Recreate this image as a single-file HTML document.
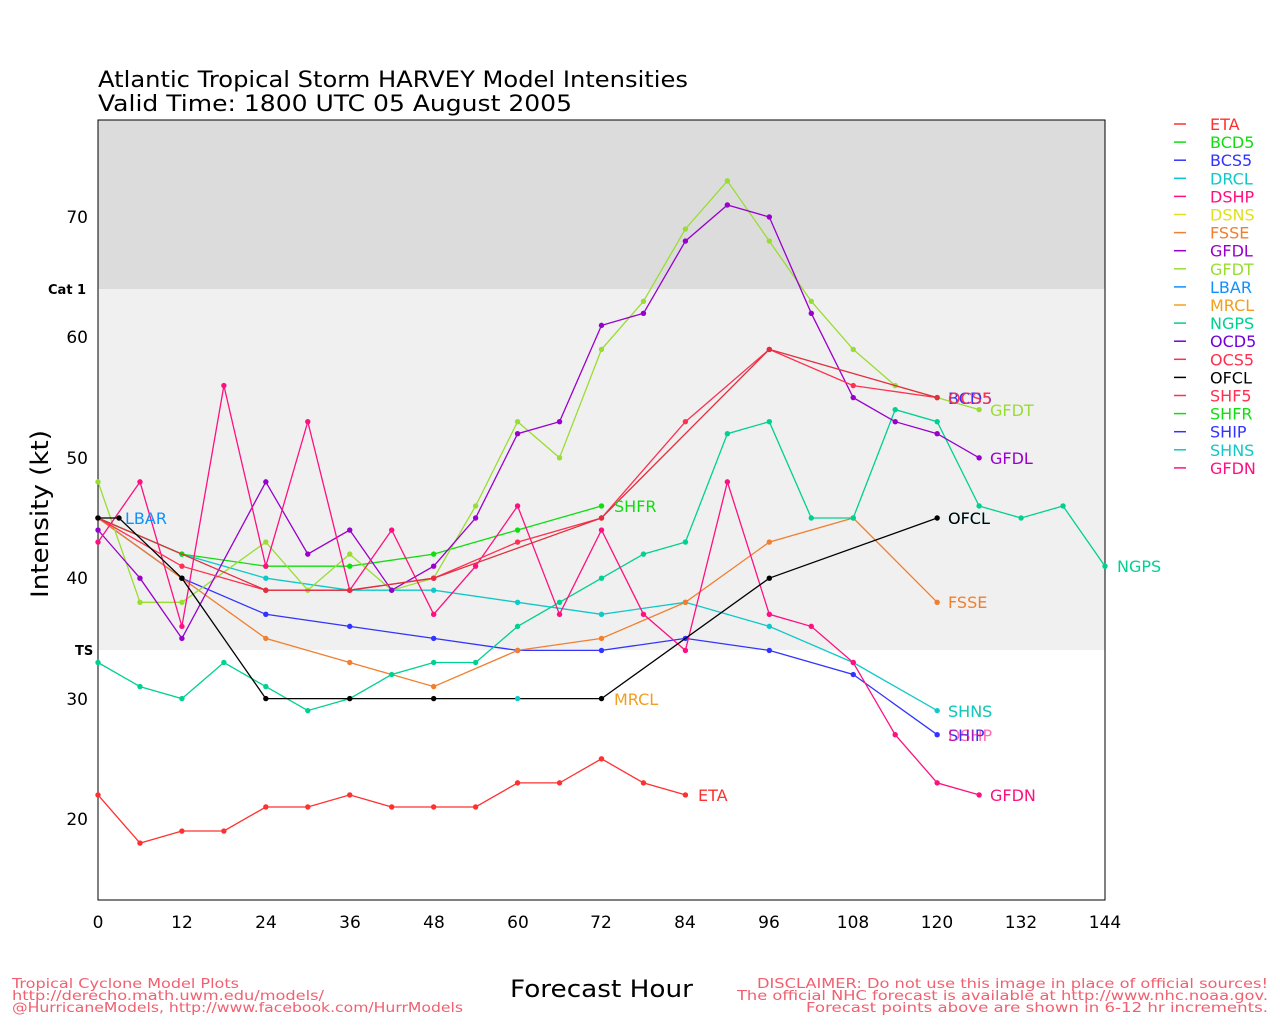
<!DOCTYPE html>
<html><head><meta charset="utf-8"><style>
body{margin:0;background:#fff;width:1280px;height:1024px;overflow:hidden;font-family:"DejaVu Sans","Liberation Sans",sans-serif}
svg text{font-family:"DejaVu Sans","Liberation Sans",sans-serif}
</style></head><body>
<svg id="s" width="1280" height="1024" xmlns="http://www.w3.org/2000/svg">
<rect x="98" y="120" width="1007" height="169" fill="#dcdcdc"/>
<rect x="98" y="289" width="1007" height="361" fill="#f0f0f0"/>
<rect x="98" y="120" width="1007" height="780" fill="none" stroke="#000" stroke-width="1"/>
<text x="98" y="87" font-size="22" textLength="590" lengthAdjust="spacingAndGlyphs">Atlantic Tropical Storm HARVEY Model Intensities</text>
<text x="98" y="111" font-size="22" textLength="474" lengthAdjust="spacingAndGlyphs">Valid Time: 1800 UTC 05 August 2005</text>
<text x="48" y="294" font-size="13" font-weight="bold">Cat 1</text>
<text x="75" y="655" font-size="13" font-weight="bold">TS</text>
<g font-size="17" text-anchor="end">
<text x="88" y="223">70</text><text x="88" y="343">60</text><text x="88" y="464">50</text><text x="88" y="584">40</text><text x="88" y="705">30</text><text x="88" y="825">20</text>
</g>
<g font-size="17" text-anchor="middle">
<text x="98" y="928">0</text><text x="182" y="928">12</text><text x="266" y="928">24</text><text x="350" y="928">36</text><text x="434" y="928">48</text><text x="518" y="928">60</text><text x="601" y="928">72</text><text x="685" y="928">84</text><text x="769" y="928">96</text><text x="853" y="928">108</text><text x="937" y="928">120</text><text x="1021" y="928">132</text><text x="1105" y="928">144</text>
</g>
<text x="48" y="514" font-size="24" transform="rotate(-90 48 514)" text-anchor="middle" textLength="168" lengthAdjust="spacingAndGlyphs">Intensity (kt)</text>
<text x="510" y="997" font-size="24" textLength="183" lengthAdjust="spacingAndGlyphs">Forecast Hour</text>
<g font-size="13" fill="#f06070">
<text x="12" y="988" textLength="227" lengthAdjust="spacingAndGlyphs">Tropical Cyclone Model Plots</text>
<text x="12" y="1000" textLength="312" lengthAdjust="spacingAndGlyphs">http://derecho.math.uwm.edu/models/</text>
<text x="12" y="1012" textLength="451" lengthAdjust="spacingAndGlyphs">@HurricaneModels, http://www.facebook.com/HurrModels</text>
<text x="757" y="988" textLength="511" lengthAdjust="spacingAndGlyphs">DISCLAIMER: Do not use this image in place of official sources!</text>
<text x="737" y="1000" textLength="531" lengthAdjust="spacingAndGlyphs">The official NHC forecast is available at http://www.nhc.noaa.gov.</text>
<text x="806" y="1012" textLength="462" lengthAdjust="spacingAndGlyphs">Forecast points above are shown in 6-12 hr increments.</text>
</g>
<g id="series"></g>
<g font-size="16">
<text x="698" y="801" fill="#ff3030">ETA</text>
<text x="990" y="464" fill="#9900cc">GFDL</text>
<text x="990" y="416" fill="#99dd33">GFDT</text>
<text x="990" y="801" fill="#ff1080">GFDN</text>
<text x="1117" y="572" fill="#00d090">NGPS</text>
<text x="948" y="717" fill="#e0e020">SHNS</text><text x="948" y="717" fill="#10c8c8">SHNS</text>
<text x="948" y="741" fill="#3333ff">SHIP</text><text x="948" y="741" fill="#ff1080" opacity="0.6">DSHP</text>
<text x="948" y="608" fill="#f08030">FSSE</text>
<text x="948" y="524" fill="#10c8c8">OFCL</text><text x="948" y="524" fill="#000">OFCL</text>
<text x="948" y="404" fill="#3333ff">BCD5</text><text x="948" y="404" fill="#ff3050">OCS5</text>
<text x="614" y="512" fill="#10dd10">SHFR</text>
<text x="614" y="705" fill="#f0a020">MRCL</text>
<text x="125" y="524" fill="#1090ff">LBAR</text>
</g>
<g id="leg" font-size="16"></g>
</svg>
<script>
var X=h=>98+h*6.993,Y=k=>819-(k-20)*12.04;
var S=[
["#10c8c8",[[0,45],[12,42],[24,40],[36,39],[48,39],[60,38],[72,37],[84,38],[96,36],[108,33],[120,29]]],
["#3333ff",[[0,45],[12,40],[24,37],[36,36],[48,35],[60,34],[72,34],[84,35],[96,34],[108,32],[120,27]]],
["#f08030",[[0,45],[12,40],[24,35],[36,33],[48,31],[60,34],[72,35],[84,38],[96,43],[108,45],[120,38]]],
["#10dd10",[[0,45],[12,42],[24,41],[36,41],[48,42],[60,44],[72,46]]],
["#ff3030",[[0,22],[6,18],[12,19],[18,19],[24,21],[30,21],[36,22],[42,21],[48,21],[54,21],[60,23],[66,23],[72,25],[78,23],[84,22]]],
["#00d090",[[0,33],[6,31],[12,30],[18,33],[24,31],[30,29],[36,30],[42,32],[48,33],[54,33],[60,36],[66,38],[72,40],[78,42],[84,43],[90,52],[96,53],[102,45],[108,45],[114,54],[120,53],[126,46],[132,45],[138,46],[144,41]]],
["#99dd33",[[0,48],[6,38],[12,38],[24,43],[30,39],[36,42],[42,39],[48,40],[54,46],[60,53],[66,50],[72,59],[78,63],[84,69],[90,73],[96,68],[102,63],[108,59],[114,56],[120,55],[126,54]]],
["#9900cc",[[0,44],[6,40],[12,35],[24,48],[30,42],[36,44],[42,39],[48,41],[54,45],[60,52],[66,53],[72,61],[78,62],[84,68],[90,71],[96,70],[102,62],[108,55],[114,53],[120,52],[126,50]]],
["#ff1080",[[0,43],[6,48],[12,36],[18,56],[24,41],[30,53],[36,39],[42,44],[48,37],[54,41],[60,46],[66,37],[72,44],[78,37],[84,34],[90,48],[96,37],[102,36],[108,33],[114,27],[120,23],[126,22]]],
["#ff3050",[[0,45],[12,41],[24,39],[36,39],[48,40],[60,43],[72,45],[84,53],[96,59],[108,56],[120,55]]],
["#e03040",[[0,45],[24,39],[36,39],[48,40],[72,45],[96,59],[120,55]]],
["#000",[[0,45],[3,45],[12,40],[24,30],[36,30],[48,30],[72,30],[96,40],[120,45]]],
["#10c8c8",[[60,30]]]
];
var h="";
S.forEach(s=>{var p=s[1].map(q=>X(q[0]).toFixed(1)+","+Y(q[1]).toFixed(1)).join(" ");
h+='<polyline points="'+p+'" fill="none" stroke="'+s[0]+'" stroke-width="1.3"/>';
s[1].forEach(q=>h+='<circle cx="'+X(q[0])+'" cy="'+Y(q[1])+'" r="2.7" fill="'+s[0]+'"/>');});
document.getElementById("series").innerHTML=h;
var L=[["ETA","#ff3030"],["BCD5","#10dd10"],["BCS5","#3333ff"],["DRCL","#10c8c8"],["DSHP","#ff1080"],["DSNS","#e0e020"],["FSSE","#f08030"],["GFDL","#9900cc"],["GFDT","#99dd33"],["LBAR","#1090ff"],["MRCL","#f0a020"],["NGPS","#00d090"],["OCD5","#7000dd"],["OCS5","#ff3050"],["OFCL","#000"],["SHF5","#ff3050"],["SHFR","#10dd10"],["SHIP","#3333ff"],["SHNS","#10c8c8"],["GFDN","#ff1080"]];
var g="";L.forEach((l,i)=>{var y=124+i*18.1;g+='<line x1="1174" x2="1186" y1="'+y+'" y2="'+y+'" stroke="'+l[1]+'" stroke-width="1.5"/><text x="1210" y="'+(y+6)+'" fill="'+l[1]+'">'+l[0]+'</text>';});
document.getElementById("leg").innerHTML=g;
</script>
</body></html>
